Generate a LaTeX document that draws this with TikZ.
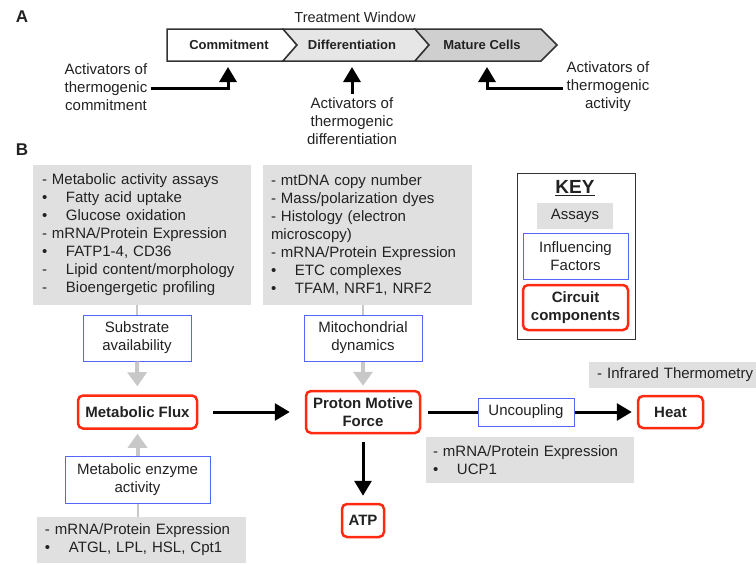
\documentclass[tikz,border=0pt]{standalone}
\usepackage{fontspec}
\setmainfont{Liberation Sans}
\usetikzlibrary{arrows.meta}
\definecolor{assaygray}{HTML}{E0E0E0}
\definecolor{factorblue}{HTML}{5566FF}
\definecolor{circred}{HTML}{FF2A10}
\definecolor{arrowgray}{HTML}{C8C8C8}
\definecolor{bandline}{HTML}{333333}
\definecolor{diffgray}{HTML}{E6E6E6}
\definecolor{matgray}{HTML}{CFCFCF}
\definecolor{txt}{HTML}{222222}
\newcommand\fsz[2]{\fontsize{#1}{#2}\selectfont}
\newcommand\bul[1]{\makebox[24pt][l]{#1}}
\begin{document}
\begin{tikzpicture}[x=1pt,y=-1pt,
  every node/.style={text=txt},
  band/.style={draw=bandline, line width=1.5pt, line join=miter},
  chev/.style={font=\bfseries\fsz{13}{16}},
  plain/.style={align=center, font=\fsz{15}{18}},
  assay/.style={fill=assaygray, draw=none, inner ysep=0pt, align=left, font=\fsz{15}{18}},
  factor/.style={draw=factorblue, line width=1pt, fill=white, align=center, inner sep=0pt, font=\fsz{15}{18}},
  circuit/.style={draw=circred, line width=2.5pt, rounded corners=5pt, fill=white, align=center, inner sep=0pt, font=\bfseries\fsz{15}{18}},
  blk/.style={draw=black, line width=3pt, -{Triangle[length=15pt,width=17pt]}},
  blkline/.style={draw=black, line width=3pt},
  gry/.style={draw=arrowgray, line width=4pt, -{Triangle[length=14pt,width=19pt]}},
  gryline/.style={draw=arrowgray, line width=2pt}
]
\useasboundingbox (0,0) rectangle (756,565);

% ---------- Panel A ----------
\node[font=\bfseries\fsz{17}{20}] (labA) at (22,17) {A};
\node[font=\fsz{14.5}{17}] (tw) at (355,17) {Treatment Window};
\draw[band, fill=white] (167,29) -- (283,29) -- (297,45) -- (283,61) -- (167,61) -- cycle;
\draw[band, fill=diffgray] (283,29) -- (415,29) -- (429,45) -- (415,61) -- (283,61) -- (297,45) -- cycle;
\draw[band, fill=matgray] (415,29) -- (541,29) -- (557,45) -- (541,61) -- (415,61) -- (429,45) -- cycle;
\node[chev] (commit) at (229,45) {Commitment};
\node[chev] (diff) at (352,45) {Differentiation};
\node[chev] (mature) at (482,45) {Mature Cells};

\coordinate (t1) at (228,67);
\coordinate (t2) at (352,67);
\coordinate (t3) at (487,67);
\node[plain] (act1) at (106,87) {Activators of\\thermogenic\\commitment};
\node[plain] (act2) at (352,121) {Activators of\\thermogenic\\differentiation};
\node[plain] (act3) at (608,87) {Activators of\\thermogenic\\activity};
\draw[blk] (act1.east) ++(0,1) -| (t1);
\draw[blk] (act2.north) -- (t2);
\draw[blk] (act3.west) ++(0,1) -| (t3);

% ---------- Panel B ----------
\node[font=\bfseries\fsz{17}{20}] (labB) at (22,150) {B};

\node[assay, minimum width=218pt, minimum height=140pt, inner xsep=9pt, text width=200pt] (g1) at (142,235)
 {- Metabolic activity assays\\
  \bul{\textbullet}Fatty acid uptake\\
  \bul{\textbullet}Glucose oxidation\\
  - mRNA/Protein Expression\\
  \bul{\textbullet}FATP1-4, CD36\\
  \bul{-}Lipid content/morphology\\
  \bul{-}Bioengergetic profiling};
\node[assay, minimum width=209pt, minimum height=140pt, inner xsep=8pt, text width=193pt] (g2) at (367.5,235)
 {- mtDNA copy number\\
  - Mass/polarization dyes\\
  - Histology (electron\\
  microscopy)\\
  - mRNA/Protein Expression\\
  \bul{\textbullet}ETC complexes\\
  \bul{\textbullet}TFAM, NRF1, NRF2};
\node[assay, minimum width=209pt, minimum height=46pt, inner xsep=8pt, text width=193pt] (g3) at (141.5,540)
 {- mRNA/Protein Expression\\
  \bul{\textbullet}ATGL, LPL, HSL, Cpt1};
\node[assay, minimum width=208pt, minimum height=46pt, inner xsep=7pt, text width=194pt] (g4) at (530,460)
 {- mRNA/Protein Expression\\
  \bul{\textbullet}UCP1};
\node[assay, anchor=west, minimum width=216pt, minimum height=26pt, inner xsep=8pt, text width=200pt] (g5) at (589,375)
 {- Infrared Thermometry};

\node[factor, minimum width=108pt, minimum height=46pt] (sub) at (137,338) {Substrate\\availability};
\node[factor, minimum width=118pt, minimum height=46pt] (mito) at (363,338) {Mitochondrial\\dynamics};
\node[factor, minimum width=145pt, minimum height=47pt] (enz) at (137.5,479.5) {Metabolic enzyme\\activity};
\node[factor, minimum width=96pt, minimum height=28pt] (unc) at (526,412) {Uncoupling};

\node[circuit, minimum width=119pt, minimum height=33pt] (flux) at (137.5,412) {Metabolic Flux};
\node[circuit, minimum width=114pt, minimum height=42pt] (pmf) at (363,412) {Proton Motive\\Force};
\node[circuit, minimum width=42pt, minimum height=33pt] (atp) at (363,520.5) {ATP};
\node[circuit, minimum width=65pt, minimum height=32pt] (heat) at (670.5,412) {Heat};

% KEY
\node[draw=bandline, line width=1pt, minimum width=118pt, minimum height=166pt] (keybox) at (576,256) {};
\node[font=\bfseries\fsz{19}{22}] (keyt) at (575,188) {\underline{KEY}};
\node[assay, inner xsep=0pt, minimum width=76pt, minimum height=26pt, align=center] (kas) at (575,216) {Assays};
\node[factor, minimum width=105pt, minimum height=46pt] (kif) at (575.5,256) {Influencing\\Factors};
\node[circuit, minimum width=105pt, minimum height=45pt] (kcc) at (575.5,307.5) {Circuit\\components};

% connectors
\draw[gryline] (sub.north |- g1.south) -- (sub.north);
\draw[gry, shorten >=8pt] (sub.south) -- (flux.north);
\draw[gryline] (mito.north |- g2.south) -- (mito.north);
\draw[gry, shorten >=4pt] (mito.south) -- (pmf.north);
\draw[gryline] (enz.south |- g3.north) -- (enz.south);
\draw[gry, shorten >=4pt] (enz.north) -- (flux.south);
\draw[blk, shorten <=15pt, shorten >=15pt] (flux.east) -- (pmf.west);
\draw[blk, shorten <=8pt, shorten >=7pt] (pmf.south) -- (atp.north);
\draw[blkline, shorten <=7pt] (pmf.east) -- (unc.west);
\draw[blk, shorten >=5pt] (unc.east) -- (heat.west);
\end{tikzpicture}
\end{document}
